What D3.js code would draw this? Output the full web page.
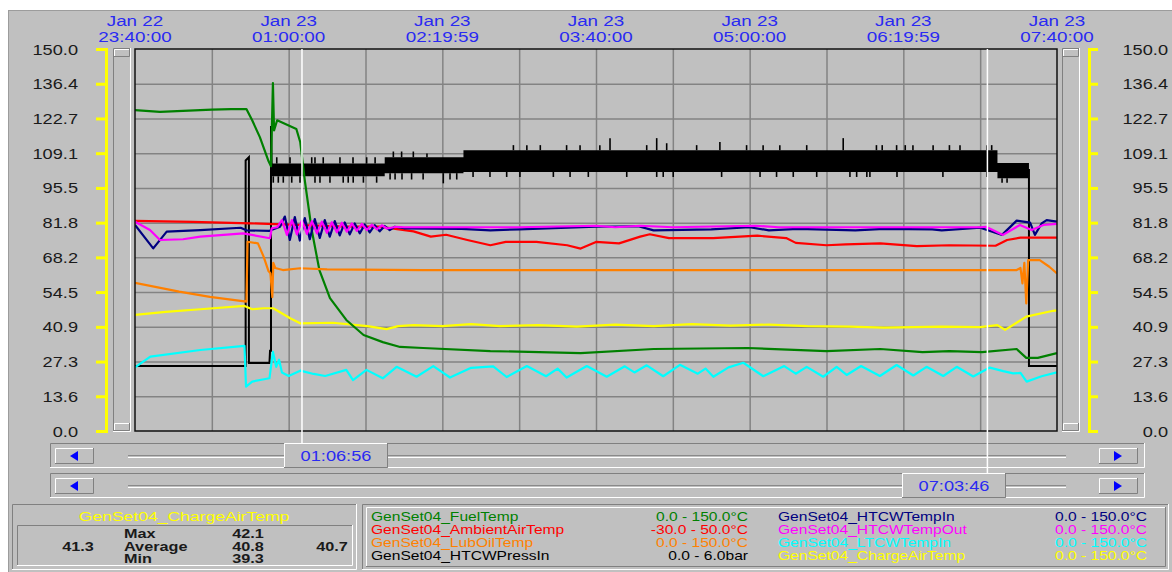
<!DOCTYPE html>
<html>
<head>
<meta charset="utf-8">
<script src="https://d3js.org/d3.v7.min.js"></script>
<style>
  body { margin: 0; background: #fff; }
  svg text { font-family: "Liberation Sans", Arial, sans-serif; }
</style>
</head>
<body>
<div id="chart"></div>
<script>
// ---- data (time = minutes after Jan 22 23:40:00) ----
const timeLabelMin = [0, 80, 160, 240, 320, 400, 480];
const timeLabelDay = ["Jan 22", "Jan 23", "Jan 23", "Jan 23", "Jan 23", "Jan 23", "Jan 23"];
const timeLabelClock = ["23:40:00", "01:00:00", "02:19:59", "03:40:00", "05:00:00", "06:19:59", "07:40:00"];

const fuelTemp = [[0,126.0],[13,125.3],[25,125.7],[40,126.2],[50,126.4],[58,126.4],[61,122],[65,115.4],[69.5,106],[70.8,104],[71.8,136.6],[72.4,118],[74,122],[84,118.6],[86,113.5],[88.5,97.8],[92,78.9],[96,63.2],[101.5,52.2],[110,43.6],[119,37.7],[129,34.9],[138,33],[150,32.6],[185,31.4],[232,30.6],[270,32.2],[319,32.6],[360,31.4],[388,32.2],[410,31],[424,31.4],[441,31],[459,32.2],[464,28.7],[470,28.7],[480,30.6]];

const ambientAirTemp = [[0,14.0],[30,13.8],[60,13.5],[80,13.2],[110,12.8],[127,12.8],[145,11.8],[154,10.7],[162,11.1],[173,10.0],[185,8.9],[193,9.6],[209,9.6],[225,8.9],[232,8.2],[240,9.6],[252,9.3],[263,10.7],[268,11.2],[278,10.4],[291,10.4],[301,10.4],[324,10.9],[339,10.4],[344,9.4],[360,8.9],[370,9.1],[388,9.3],[407,8.7],[424,8.9],[448,8.8],[454,10.0],[461,10.5],[480,10.5]];

const lubOilTemp = [[0,58.2],[23,54.7],[39,52.7],[58,50.8],[58.6,74.3],[64,73.7],[67,68.4],[69.5,62.8],[70.5,61.9],[71.5,52.6],[72,66],[73,64],[77,63.2],[86,63.9],[100,63.5],[150,63.2],[250,63.2],[350,63.2],[459,63.2],[461,64],[462,58],[463,66],[464,50.1],[465,67.1],[471,67.1],[476,64.5],[480,61.9]];

const htcwTempIn = [[0,80.9],[9.5,71.7],[16.5,78.3],[34,78.9],[55,79.8],[58,78.8],[70,78.6],[75.5,80.2],[78,84.2],[80.6,75],[83.2,84],[85.8,74.8],[88.4,83.6],[91,75.3],[93.6,83.2],[96.2,75.8],[98.8,82.8],[101.4,76.3],[104,82.4],[106.6,76.8],[109.2,81.9],[111.8,77.2],[114.4,81.5],[117,77.6],[119.6,81.1],[122.2,78],[124.8,80.8],[127.4,78.4],[130,80.5],[132.6,78.9],[135.2,80.2],[140,79.6],[170,79.4],[185,78.8],[200,79.2],[240,80.2],[262,80.4],[270,78.8],[300,79.2],[320,80],[330,78.8],[345,79.4],[375,78.8],[390,79.4],[415,79.2],[420,78.8],[440,79.8],[451.4,77],[459,82.6],[466,81.8],[468.5,77],[472,81.5],[474.6,82.8],[480,82.2]];

const htcwTempOut = [[0,82.2],[7.8,78.9],[13,75],[25,75.3],[34,76.3],[56.4,77.6],[70.3,75.7],[71.2,79.6],[74,80],[76.5,82.8],[79.1,77],[81.7,82.8],[84.3,77.2],[86.9,82.6],[89.5,77.4],[92.1,82.4],[94.7,77.6],[97.3,82.2],[99.9,77.8],[102.5,82],[105.1,78],[107.7,81.8],[110.3,78.3],[112.9,81.5],[115.5,78.6],[118.1,81.3],[120.7,78.9],[123.3,81],[125.9,79.2],[128.5,80.8],[131.1,79.5],[136,80.2],[140,80],[200,80],[240,80.6],[250,80],[263,80.6],[280,80],[323,80.6],[335,80],[440,80],[443,80.2],[451.9,77],[460.7,80.9],[466.8,78.9],[472.9,80.9],[480,81.3]];

const ltcwTempIn = [[0,25],[8,29.2],[34,31.8],[57,33.4],[57.8,17.4],[61,19.4],[70,20.7],[71.8,31.1],[73.5,25.2],[75,28],[76.5,23],[80,21.6],[86,23.7],[93,22.4],[99,21.6],[110,24],[113.5,20],[120.5,24],[129,20.7],[136.2,25.2],[146.6,21.3],[155.3,25.5],[164,21],[175,24.8],[186.5,25.4],[193.5,21.2],[204,25.5],[214,21.5],[220,24.5],[224.7,21],[235.2,25.5],[245.6,21.3],[255,25.4],[260,23],[266.4,25.8],[275,21.5],[283.7,26],[293,22.5],[297,24.5],[301.1,21.3],[309,25],[316.7,26.8],[327.1,21.5],[338,25.5],[344,22.5],[349.7,25.2],[358.3,21.3],[365.3,25.2],[370.5,22],[378,25.5],[387.8,21.6],[396.5,25.9],[405.2,21.8],[412.1,25.2],[420.8,21.6],[427.8,25.2],[436.4,21.4],[445,24.9],[452,23.5],[457.2,22.6],[461,22.8],[464.2,19.4],[472,21.5],[480,23]];

const chargeAirTemp = [[0,45.6],[16,46.8],[34,47.8],[57,49.1],[61,47.8],[67,48.2],[72,48.2],[81,44.2],[86,42.3],[103,42.5],[121,41.2],[131,40],[137,41.2],[145,41.6],[160,41.2],[175,42],[190,41.2],[210,41.6],[230,41],[250,41.8],[270,41.2],[290,42],[310,41.4],[330,41.8],[350,41.2],[372,41],[390,40.6],[420,41],[440,40.8],[449,41.6],[453,39.7],[464,44.9],[478,47.2],[480,47.4]];

// HTCW pressure (bar): step trace, noisy band [t, low, high], spikes [t, value]
const pressLead = [[0,1.02],[57.6,1.02],[57.6,4.25],[59.3,4.3],[59.3,1.07],[70,1.07],[70.3,1.26],[70.8,1.26],[70.8,4.79],[71.2,4.1]];
const pressTail = [[464.5,4.1],[465.4,4.1],[465.4,1.02],[480,1.02]];
const pressBand = [[71,4.0,4.2],[130,4.05,4.3],[171,4.07,4.41],[449,3.97,4.21],[465.4,3.97,4.21]];
const pressSpikesUp = [[73.8,4.3],[80.7,4.3],[92,4.3],[93.7,4.3],[98,4.3],[106.7,4.3],[113.5,4.3],[120.6,4.3],[125,4.3],[134.5,4.39],[138.8,4.39],[144.9,4.39],[152,4.36],[197,4.49],[204,4.49],[211,4.49],[224.7,4.49],[231.7,4.49],[242,4.49],[247.3,4.6],[266.4,4.49],[271.6,4.6],[276.8,4.52],[292.4,4.49],[304.5,4.54],[318.4,4.49],[327,4.49],[335.7,4.49],[349.7,4.49],[368.7,4.6],[386,4.49],[389,4.49],[396.5,4.49],[401,4.49],[405,4.49],[415.5,4.49],[424,4.49],[429.5,4.49],[443.5,4.49],[446,4.49]];
const pressSpikesDown = [[72,3.9],[74.6,3.9],[77.2,3.9],[81.6,3.9],[85.9,3.9],[93.7,3.9],[96.3,3.9],[101.5,3.9],[108.4,3.9],[111,3.9],[113.6,3.9],[118.9,3.9],[125.8,3.9],[132.8,3.95],[135.4,3.95],[139,3.95],[144,3.95],[150,3.95],[160.5,3.89],[164,3.95],[167.5,3.95],[176,3.99],[184.8,3.99],[193.5,3.99],[200.4,3.99],[217.8,3.99],[226.5,3.99],[236,3.99],[256,3.99],[271.6,3.99],[275,3.99],[280.2,3.99],[305.4,3.99],[325.4,3.99],[334,3.99],[342.7,3.99],[354.9,3.99],[372.2,3.99],[375.7,3.99],[381,3.99],[382.6,3.99],[396.7,3.99],[420.6,3.99],[443.5,3.99],[451.4,3.9],[454,3.9]];

const cursorMin = [86.93, 443.77];
const cursorLabel = ["01:06:56", "07:03:46"];

const statsName = "GenSet04_ChargeAirTemp";
const statsLeft = 41.3, statsRight = 40.7;
const statsRows = [["Max", 42.1], ["Average", 40.8], ["Min", 39.3]];

const series = [
  { name: "GenSet04_FuelTemp",       color: "#008000", lo: 0,   hi: 150, unit: "°C",  data: fuelTemp },
  { name: "GenSet04_AmbientAirTemp", color: "#ff0000", lo: -30, hi: 50,  unit: "°C",  data: ambientAirTemp },
  { name: "GenSet04_LubOilTemp",     color: "#ff8000", lo: 0,   hi: 150, unit: "°C",  data: lubOilTemp },
  { name: "GenSet04_HTCWPressIn",    color: "#000000", lo: 0,   hi: 6,   unit: "bar", data: null },
  { name: "GenSet04_HTCWTempIn",     color: "#000080", lo: 0,   hi: 150, unit: "°C",  data: htcwTempIn },
  { name: "GenSet04_HTCWTempOut",    color: "#ff00ff", lo: 0,   hi: 150, unit: "°C",  data: htcwTempOut },
  { name: "GenSet04_LTCWTempIn",     color: "#00ffff", lo: 0,   hi: 150, unit: "°C",  data: ltcwTempIn },
  { name: "GenSet04_ChargeAirTemp",  color: "#ffff00", lo: 0,   hi: 150, unit: "°C",  data: chargeAirTemp }
];
const drawOrder = [6, 7, 0, 2, 1, 4, 5];

// ---- layout ----
const W = 1172, H = 572;
const plot = { left: 135, right: 1057, top: 49, bottom: 431 };
const thumbLeft = [284, 902];
const SX = 1.3; // text in the screenshot is stretched horizontally
const start = new Date(2019, 0, 22, 23, 40, 0);
const at = m => new Date(start.getTime() + m * 60000);

const svg = d3.select("#chart").append("svg").attr("width", W).attr("height", H);
svg.append("rect").attr("width", W).attr("height", H).attr("fill", "#fff");
svg.append("rect").attr("x", 8.5).attr("y", 10.5).attr("width", W).attr("height", H)
   .attr("fill", "#c0c0c0").attr("stroke", "#9c9c9c");

function label(g, px, py, str, o = {}) {
  return g.append("text")
    .attr("transform", `translate(${px},${py}) scale(${SX},1)`)
    .attr("text-anchor", o.anchor || "start")
    .attr("font-size", o.size || 14)
    .attr("font-weight", o.weight || "normal")
    .attr("fill", o.color || "#1a1a1a")
    .text(str);
}
function box(g, bx, by, bw, bh, raised) {
  g.append("rect").attr("x", bx).attr("y", by).attr("width", bw).attr("height", bh).attr("fill", "#c0c0c0");
  g.append("path").attr("d", `M${bx + .5},${by + bh}V${by + .5}H${bx + bw}`)
   .attr("stroke", raised ? "#fff" : "#808080").attr("fill", "none");
  g.append("path").attr("d", `M${bx + bw - .5},${by}V${by + bh - .5}H${bx}`)
   .attr("stroke", raised ? "#808080" : "#fff").attr("fill", "none");
}

const x = d3.scaleTime().domain([at(0), at(480)]).range([plot.left, plot.right]);
const y = d3.scaleLinear().domain([0, 150]).range([plot.bottom, plot.top]);
const yTicks = d3.range(12).map(i => 150 * i / 11);

// ---- top time labels ----
const timeG = svg.append("g");
timeLabelMin.forEach((m, i) => {
  label(timeG, x(at(m)), 26, timeLabelDay[i], { anchor: "middle", size: 14.5, color: "#2a2af2" });
  label(timeG, x(at(m)), 42, timeLabelClock[i], { anchor: "middle", size: 14.5, color: "#2a2af2" });
});

// ---- vertical scroll channels ----
[[113, 48], [1062, 48]].forEach(([bx, by]) => {
  box(svg, bx, by, 18, 384, false);
  box(svg, bx + 1, by + 1, 16, 8, true);
  box(svg, bx + 1, by + 375, 16, 8, true);
});

// ---- yellow axes ----
function styleAxis(g, dx, anchor) {
  g.select(".domain").attr("stroke", "#ffff00").attr("stroke-width", 3).attr("fill", "none");
  g.selectAll(".tick line").attr("stroke", "#ffff00").attr("stroke-width", 3);
  g.selectAll(".tick text")
    .attr("x", null).attr("dy", null)
    .attr("transform", `translate(${dx},5) scale(${SX},1)`)
    .attr("text-anchor", anchor)
    .attr("font-size", 14).attr("font-family", "Liberation Sans, Arial, sans-serif")
    .attr("fill", "#1a1a1a");
}
const fmtTick = v => v.toFixed(1);
const leftAxis = svg.append("g").attr("transform", "translate(106,0)")
  .call(d3.axisLeft(y).tickValues(yTicks).tickSize(10).tickSizeOuter(10).tickFormat(fmtTick));
styleAxis(leftAxis, -28, "end");
const rightAxis = svg.append("g").attr("transform", "translate(1089,0)")
  .call(d3.axisRight(y).tickValues(yTicks).tickSize(9).tickSizeOuter(9).tickFormat(fmtTick));
styleAxis(rightAxis, 79, "end");

// ---- plot area, grid ----
svg.append("rect").attr("x", plot.left).attr("y", plot.top)
   .attr("width", plot.right - plot.left).attr("height", plot.bottom - plot.top).attr("fill", "#c0c0c0");
const grid = svg.append("g");
grid.append("g").attr("transform", `translate(0,${plot.bottom})`)
  .call(d3.axisBottom(x).tickValues(d3.range(40, 480, 40).map(at)).tickSize(-(plot.bottom - plot.top)).tickFormat(""));
grid.append("g").attr("transform", `translate(${plot.left},0)`)
  .call(d3.axisLeft(y).tickValues(yTicks.slice(1, 11)).tickSize(-(plot.right - plot.left)).tickFormat(""));
grid.selectAll(".domain").remove();
grid.selectAll(".tick line").attr("stroke", "#838383").attr("stroke-width", 1.5);

svg.append("clipPath").attr("id", "clip").append("rect")
  .attr("x", plot.left).attr("y", plot.top).attr("width", plot.right - plot.left).attr("height", plot.bottom - plot.top);
const lines = svg.append("g").attr("clip-path", "url(#clip)");

// pressure trace
const yP = d3.scaleLinear().domain([series[3].lo, series[3].hi]).range([plot.bottom, plot.top]);
const pLine = d3.line().x(d => x(at(d[0]))).y(d => yP(d[1]));
const bandAt = t => pressBand.filter(d => d[0] <= t).pop() || pressBand[0];
const pg = lines.append("g");
pg.append("path").datum(pressBand)
  .attr("d", d3.area().x(d => x(at(d[0]))).y0(d => yP(d[1])).y1(d => yP(d[2])).curve(d3.curveStepAfter))
  .attr("fill", "#000");
pg.selectAll("line.up").data(pressSpikesUp).join("line").attr("class", "up")
  .attr("x1", d => x(at(d[0]))).attr("x2", d => x(at(d[0])))
  .attr("y1", d => yP(bandAt(d[0])[2])).attr("y2", d => yP(d[1]));
pg.selectAll("line.dn").data(pressSpikesDown).join("line").attr("class", "dn")
  .attr("x1", d => x(at(d[0]))).attr("x2", d => x(at(d[0])))
  .attr("y1", d => yP(bandAt(d[0])[1])).attr("y2", d => yP(d[1]));
pg.selectAll("line").attr("stroke", "#000").attr("stroke-width", 1.6);
[pressLead, pressTail].forEach(p =>
  pg.append("path").datum(p).attr("d", pLine).attr("fill", "none").attr("stroke", "#000").attr("stroke-width", 2));

// other series
drawOrder.forEach(i => {
  const s = series[i];
  const ys = d3.scaleLinear().domain([s.lo, s.hi]).range([plot.bottom, plot.top]);
  lines.append("path").datum(s.data)
    .attr("d", d3.line().x(d => x(at(d[0]))).y(d => ys(d[1])))
    .attr("fill", "none").attr("stroke", s.color).attr("stroke-width", 2.2)
    .attr("stroke-linejoin", "round");
});

svg.append("rect").attr("x", plot.left).attr("y", plot.top)
   .attr("width", plot.right - plot.left).attr("height", plot.bottom - plot.top)
   .attr("fill", "none").attr("stroke", "#111").attr("stroke-width", 1.5);

// ---- horizontal scrollbars with cursor thumbs ----
const bars = [443, 473];
const arrow = (g, cx, cy, dir) => g.append("path")
  .attr("d", `M${cx + dir * 4},${cy - 5}L${cx - dir * 4},${cy}L${cx + dir * 4},${cy + 5}Z`).attr("fill", "#0000ff");
bars.forEach(by => {
  box(svg, 50, by, 1095, 25, false);
  svg.append("line").attr("x1", 128).attr("x2", 1066).attr("y1", by + 12.5).attr("y2", by + 12.5).attr("stroke", "#8a8a8a");
  svg.append("line").attr("x1", 128).attr("x2", 1066).attr("y1", by + 14.5).attr("y2", by + 14.5).attr("stroke", "#fff");
  box(svg, 55, by + 5, 39, 16, true);
  arrow(svg, 74, by + 13, 1);
  box(svg, 1099, by + 5, 39, 16, true);
  arrow(svg, 1118, by + 13, -1);
});
cursorMin.forEach((m, i) => {
  const cx = x(at(m));
  svg.append("line").attr("x1", cx).attr("x2", cx).attr("y1", plot.top).attr("y2", bars[i])
    .attr("stroke", "#fff").attr("stroke-width", 1.5);
});
cursorMin.forEach((m, i) => {
  box(svg, thumbLeft[i], bars[i], 104, 25, true);
  label(svg, thumbLeft[i] + 52, bars[i] + 18, cursorLabel[i], { anchor: "middle", size: 14, color: "#2a2af2" });
});

// ---- statistics box ----
const st = svg.append("g");
box(st, 12, 504, 345, 66, false);
box(st, 17, 525, 336, 41, false);
label(st, 184, 521, statsName, { anchor: "middle", size: 13.5, color: "#ffff00" });
label(st, 78, 551, statsLeft.toFixed(1), { anchor: "middle", size: 12.5, weight: "bold" });
label(st, 332, 551, statsRight.toFixed(1), { anchor: "middle", size: 12.5, weight: "bold" });
statsRows.forEach(([k, v], i) => {
  label(st, 124, 538 + i * 12.5, k, { size: 12.5, weight: "bold" });
  label(st, 248, 538 + i * 12.5, v.toFixed(1), { anchor: "middle", size: 12.5, weight: "bold" });
});

// ---- legend ----
const lg = svg.append("g");
box(lg, 362, 504, 807, 66, false);
box(lg, 366, 507, 800, 60, true);
series.forEach((s, i) => {
  const col = Math.floor(i / 4), row = i % 4;
  const by = 521 + row * 13;
  label(lg, col ? 778 : 371, by, s.name, { size: 12, color: s.color });
  label(lg, col ? 1147 : 748, by, `${s.lo.toFixed(1)} - ${s.hi.toFixed(1)}${s.unit}`,
        { anchor: "end", size: 12, color: s.color });
});
</script>
</body>
</html>
